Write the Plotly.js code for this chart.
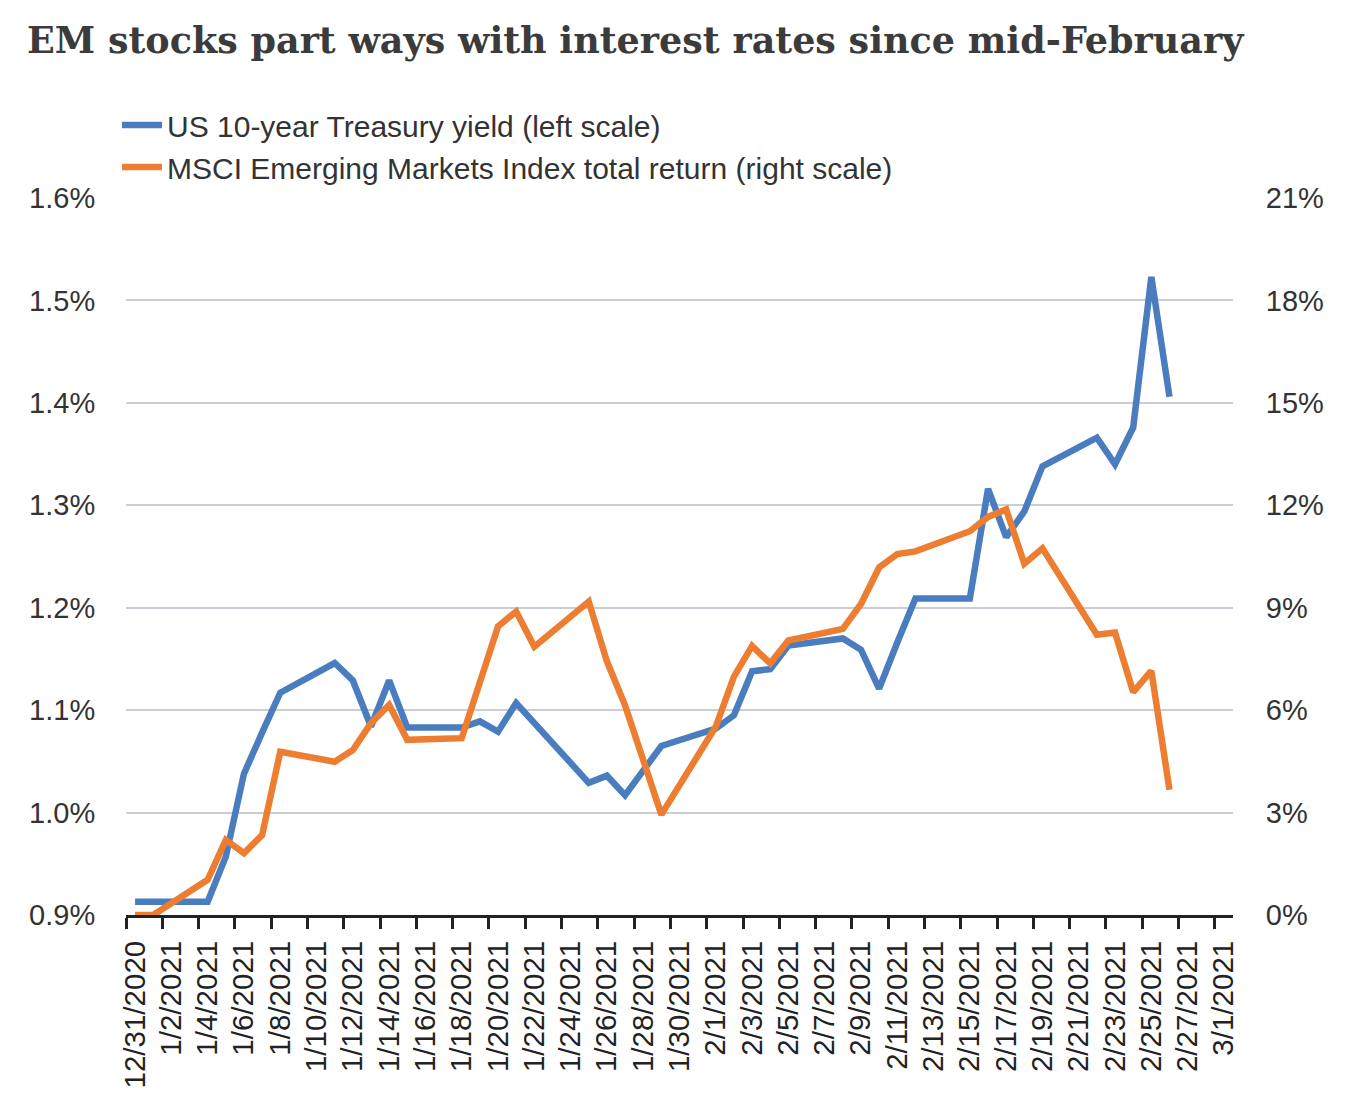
<!DOCTYPE html>
<html>
<head>
<meta charset="utf-8">
<script src="https://cdn.plot.ly/plotly-3.0.1.min.js"></script>
<style>
  html, body { margin: 0; padding: 0; background: #fff; }
  #chart { width: 1366px; height: 1098px; }
</style>
</head>
<body>
<div id="chart"></div>
<script>
// trading days shown in the chart (holidays carried flat)
const dates = [
    '2020-12-31', '2021-01-01', '2021-01-04', '2021-01-05', '2021-01-06', '2021-01-07', '2021-01-08',
    '2021-01-11', '2021-01-12', '2021-01-13', '2021-01-14', '2021-01-15',
    '2021-01-18', '2021-01-19', '2021-01-20', '2021-01-21', '2021-01-22',
    '2021-01-25', '2021-01-26', '2021-01-27', '2021-01-28', '2021-01-29',
    '2021-02-01', '2021-02-02', '2021-02-03', '2021-02-04', '2021-02-05',
    '2021-02-08', '2021-02-09', '2021-02-10', '2021-02-11', '2021-02-12',
    '2021-02-15', '2021-02-16', '2021-02-17', '2021-02-18', '2021-02-19',
    '2021-02-22', '2021-02-23', '2021-02-24', '2021-02-25', '2021-02-26'
];

// US 10-year Treasury yield, % (left scale)
const treasuryYield = [
    0.913, 0.913, 0.913, 0.957, 1.038, 1.078, 1.117,
    1.146, 1.129, 1.084, 1.129, 1.083,
    1.083, 1.089, 1.079, 1.107, 1.087,
    1.029, 1.036, 1.017, 1.041, 1.065,
    1.082, 1.095, 1.138, 1.140, 1.163,
    1.170, 1.159, 1.121, 1.166, 1.209,
    1.209, 1.316, 1.269, 1.294, 1.338,
    1.366, 1.340, 1.376, 1.523, 1.406
];

// MSCI Emerging Markets Index total return, % (right scale)
const emReturn = [
    0, 0, 1.03, 2.20, 1.81, 2.34, 4.78,
    4.49, 4.83, 5.62, 6.15, 5.13,
    5.18, 6.85, 8.45, 8.89, 7.86,
    9.18, 7.43, 6.14, 4.60, 2.94,
    5.52, 6.98, 7.88, 7.37, 8.04,
    8.38, 9.11, 10.18, 10.57, 10.65,
    11.24, 11.66, 11.88, 10.29, 10.74,
    8.21, 8.27, 6.53, 7.15, 3.67
];

const seriesNames = [
    'US 10-year Treasury yield (left scale)',
    'MSCI Emerging Markets Index total return (right scale)'
];

const titleText = 'EM stocks part ways with interest rates since mid-February';

window.onload = main;

function main() {
    // each day is a slot between tick marks, so points sit at midday
    const x = dates.map(d => d + ' 12:00');

    const traces = [
        {
            x: x,
            y: treasuryYield,
            name: seriesNames[0],
            type: 'scatter',
            mode: 'lines',
            line: { color: '#4a7cc0', width: 6.5 },
            yaxis: 'y'
        },
        {
            x: x,
            y: emReturn,
            name: seriesNames[1],
            type: 'scatter',
            mode: 'lines',
            line: { color: '#ed7d31', width: 6.5 },
            yaxis: 'y2'
        }
    ];

    const tickFont = { family: 'Liberation Sans, Arial, sans-serif', size: 29, color: '#333333' };

    const layout = {
        width: 1366,
        height: 1098,
        paper_bgcolor: '#ffffff',
        plot_bgcolor: '#ffffff',
        margin: { l: 126, r: 133, t: 198, b: 183, autoexpand: false },
        showlegend: true,
        title: {
            text: '<b>' + titleText + '</b>',
            font: { family: 'DejaVu Serif, serif', size: 36.5, color: '#3b3b3b' },
            xref: 'container',
            yref: 'container',
            x: 27 / 1366,
            xanchor: 'left',
            y: 1 - 40 / 1098,
            yanchor: 'middle'
        },
        legend: {
            xref: 'container',
            yref: 'container',
            x: 117 / 1366,
            y: 1 - 99 / 1098,
            xanchor: 'left',
            yanchor: 'top',
            bgcolor: 'rgba(0,0,0,0)',
            font: { family: 'Liberation Sans, Arial, sans-serif', size: 30, color: '#333333' },
            itemwidth: 40,
            traceorder: 'normal'
        },
        xaxis: {
            type: 'date',
            automargin: false,
            range: ['2020-12-31', '2021-03-02'],
            tick0: '2020-12-31',
            dtick: 2 * 86400000,
            tickformat: '%-m/%-d/%Y',
            tickangle: -90,
            ticks: 'outside',
            ticklen: 11,
            tickwidth: 3,
            tickcolor: '#222222',
            ticklabelshift: 9,
            showline: true,
            linecolor: '#222222',
            linewidth: 3,
            showgrid: false,
            zeroline: false,
            tickfont: { family: 'Liberation Sans, Arial, sans-serif', size: 29.5, color: '#222222' },
            fixedrange: true
        },
        yaxis: {
            automargin: false,
            range: [0.9, 1.6],
            dtick: 0.1,
            tickformat: '.1f',
            ticksuffix: '%',
            showgrid: true,
            gridcolor: '#cacdd3',
            gridwidth: 2,
            zeroline: false,
            showline: false,
            ticks: 'outside',
            ticklen: 24,
            tickcolor: 'rgba(0,0,0,0)',
            tickfont: tickFont,
            fixedrange: true
        },
        yaxis2: {
            automargin: false,
            overlaying: 'y',
            side: 'right',
            range: [0, 21],
            dtick: 3,
            ticksuffix: '%',
            showgrid: false,
            zeroline: false,
            showline: false,
            ticks: 'outside',
            ticklen: 26,
            tickcolor: 'rgba(0,0,0,0)',
            tickfont: tickFont,
            fixedrange: true
        }
    };

    Plotly.newPlot('chart', traces, layout, { displayModeBar: false, staticPlot: true });
}
</script>
</body>
</html>
